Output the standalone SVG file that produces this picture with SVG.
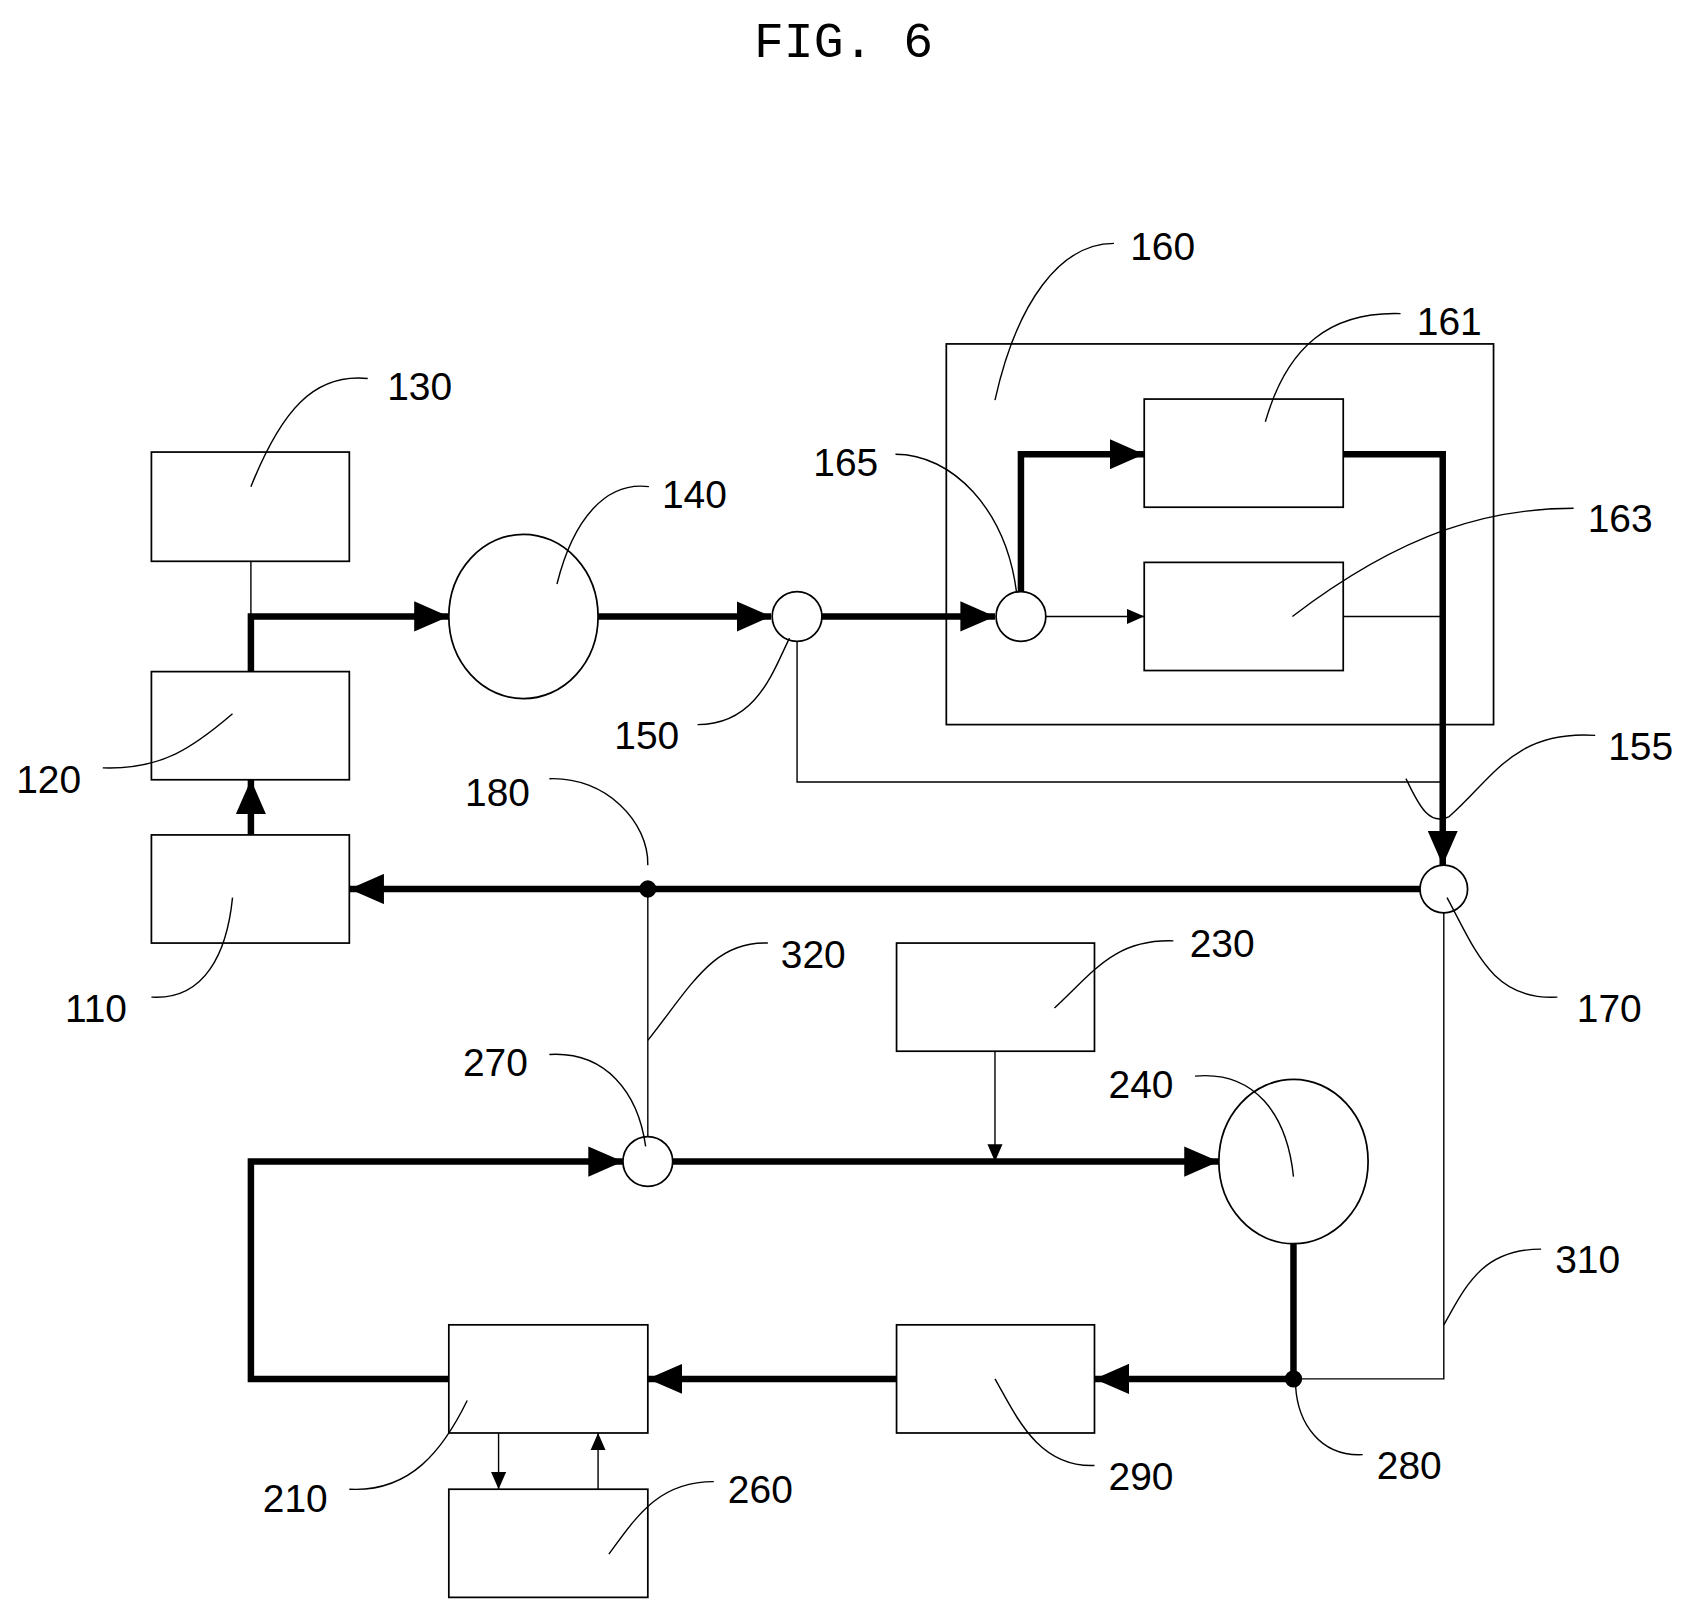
<svg xmlns="http://www.w3.org/2000/svg" width="1696" height="1619" viewBox="0 0 1696 1619">
<style>
.b{fill:#fff;stroke:#000;stroke-width:1.6}
.t{fill:none;stroke:#000;stroke-width:1.3}
.k{fill:none;stroke:#000;stroke-width:6}
.l{fill:none;stroke:#000;stroke-width:1.3}
text{font-family:"Liberation Sans",Arial,sans-serif;font-size:36px;fill:#000}
</style>
<defs>
<marker id="A" markerUnits="userSpaceOnUse" viewBox="0 0 32 28" refX="32" refY="14" markerWidth="32" markerHeight="28" orient="auto"><path d="M0,0L32,14L0,28z"/></marker>
<marker id="a" markerUnits="userSpaceOnUse" viewBox="0 0 16 14" refX="16" refY="7" markerWidth="16" markerHeight="14" orient="auto"><path d="M0,0L16,7L0,14z"/></marker>
</defs>
<rect width="1696" height="1619" fill="#fff"/>
<g transform="scale(1.0815)">
<text x="780" y="53" text-anchor="middle" style="font-family:'Liberation Mono',monospace;font-size:46px">FIG. 6</text>
<g id="connectors">
<path class="t" d="M232,519V570"/>
<path class="k" d="M232,621V570H415" marker-end="url(#A)"/>
<path class="k" d="M552,570H713" marker-end="url(#A)"/>
<path class="k" d="M760,570H920" marker-end="url(#A)"/>
<path class="k" d="M944,547V420H1058" marker-end="url(#A)"/>
<path class="t" d="M967,570H1058" marker-end="url(#a)"/>
<path class="k" d="M1242,420H1334V800" marker-end="url(#A)"/>
<path class="t" d="M1242,570H1334"/>
<path class="t" d="M737,593V723H1334"/>
<path class="k" d="M1313,822H323" marker-end="url(#A)"/>
<path class="k" d="M232,772V721" marker-end="url(#A)"/>
<circle cx="599" cy="822" r="8"/>
<path class="t" d="M599,822V1051"/>
<path class="t" d="M920,972V1074" marker-end="url(#a)"/>
<path class="k" d="M622,1074H1127" marker-end="url(#A)"/>
<path class="k" d="M415,1275H232V1074H576" marker-end="url(#A)"/>
<path class="k" d="M829,1275H599" marker-end="url(#A)"/>
<path class="k" d="M1196,1150V1275H1012" marker-end="url(#A)"/>
<circle cx="1196" cy="1275" r="8"/>
<path class="t" d="M1196,1275H1335V844"/>
<path class="t" d="M461,1325V1377" marker-end="url(#a)"/>
<path class="t" d="M553,1377V1325" marker-end="url(#a)"/>
</g>
<g id="n160"><rect class="b" x="875" y="318" width="506" height="352" style="fill:none"/></g>
<g id="n130"><rect class="b" x="140" y="418" width="183" height="101"/></g>
<g id="n120"><rect class="b" x="140" y="621" width="183" height="100"/></g>
<g id="n110"><rect class="b" x="140" y="772" width="183" height="100"/></g>
<g id="n140"><ellipse class="b" cx="484" cy="570" rx="69" ry="76"/></g>
<g id="n150"><circle class="b" cx="737" cy="570" r="23"/></g>
<g id="n165"><circle class="b" cx="944" cy="570" r="23"/></g>
<g id="n161"><rect class="b" x="1058" y="369" width="184" height="100"/></g>
<g id="n163"><rect class="b" x="1058" y="520" width="184" height="100"/></g>
<g id="n170"><circle class="b" cx="1335" cy="822" r="22"/></g>
<g id="n270"><circle class="b" cx="599" cy="1074" r="23"/></g>
<g id="n230"><rect class="b" x="829" y="872" width="183" height="100"/></g>
<g id="n240"><ellipse class="b" cx="1196" cy="1074" rx="69" ry="76"/></g>
<g id="n210"><rect class="b" x="415" y="1225" width="184" height="100"/></g>
<g id="n290"><rect class="b" x="829" y="1225" width="183" height="100"/></g>
<g id="n260"><rect class="b" x="415" y="1377" width="184" height="100"/></g>
<g id="labels">
<path class="l" d="M340,350C290,345 260,380 232,450"/><text x="358" y="370">130</text>
<path class="l" d="M600,450C560,445 530,480 515,540"/><text x="612" y="470">140</text>
<path class="l" d="M828,420C880,420 930,470 940,548"/><text x="752" y="440">165</text>
<path class="l" d="M1030,225C980,225 940,280 920,370"/><text x="1045" y="240">160</text>
<path class="l" d="M1295,290C1230,288 1190,320 1170,390"/><text x="1310" y="310">161</text>
<path class="l" d="M1455,470C1380,470 1300,490 1195,570"/><text x="1468" y="492">163</text>
<path class="l" d="M645,670C700,670 715,620 730,590"/><text x="568" y="693">150</text>
<path class="l" d="M95,710C150,712 180,690 215,660"/><text x="15" y="733">120</text>
<path class="l" d="M508,720C560,718 600,760 599,800"/><text x="430" y="745">180</text>
<path class="l" d="M1475,680C1400,675 1380,720 1340,755C1320,765 1310,740 1300,720"/><text x="1487" y="703">155</text>
<path class="l" d="M140,922C190,925 210,880 215,830"/><text x="60" y="945">110</text>
<path class="l" d="M1440,922C1380,925 1365,880 1338,830"/><text x="1458" y="945">170</text>
<path class="l" d="M710,872C660,870 640,910 599,962"/><text x="722" y="895">320</text>
<path class="l" d="M1085,870C1030,868 1010,900 975,932"/><text x="1100" y="885">230</text>
<path class="l" d="M508,975C560,972 590,1010 597,1060"/><text x="428" y="995">270</text>
<path class="l" d="M1105,995C1160,990 1190,1030 1196,1088"/><text x="1025" y="1015">240</text>
<path class="l" d="M1425,1155C1370,1155 1355,1190 1335,1225"/><text x="1438" y="1177">310</text>
<path class="l" d="M323,1377C380,1380 410,1340 432,1295"/><text x="243" y="1398">210</text>
<path class="l" d="M1012,1355C960,1357 940,1310 920,1275"/><text x="1025" y="1378">290</text>
<path class="l" d="M1260,1345C1220,1347 1200,1315 1198,1282"/><text x="1273" y="1368">280</text>
<path class="l" d="M660,1370C610,1370 590,1400 563,1437"/><text x="673" y="1390">260</text>
</g>
</g>
</svg>
